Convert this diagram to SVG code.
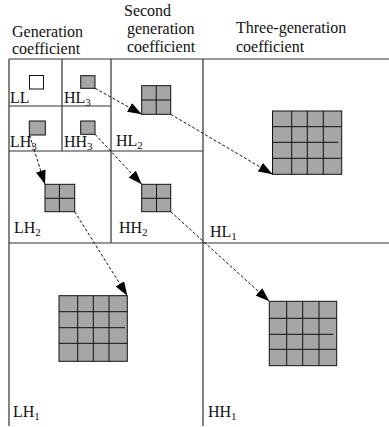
<svg xmlns="http://www.w3.org/2000/svg" width="389" height="427" viewBox="0 0 389 427">
<style>
text{font-family:"Liberation Serif","Times New Roman",serif;font-size:16px;fill:#111}
.sub{font-size:11px}
.frame{stroke:#333;stroke-width:1.2;fill:none}
.g{fill:#a6a6a6;stroke:#111;stroke-width:1}
.w{fill:#fff;stroke:#111;stroke-width:1}
.gl{stroke:#111;stroke-width:1;fill:none}
.arr{stroke:#111;stroke-width:1;stroke-dasharray:3 2;fill:none;marker-end:url(#ah)}
</style>
<defs>
<marker id="ah" viewBox="0 0 14 10" refX="14" refY="5" markerWidth="14" markerHeight="10" markerUnits="userSpaceOnUse" orient="auto">
<path d="M0,0 L14,5 L0,10 Z" fill="#000"/>
</marker>
</defs>
<rect width="389" height="427" fill="#fff"/>
<g id="headers">
<text x="12" y="37">Generation</text>
<text x="12" y="54">coefficient</text>
<text x="124" y="16">Second</text>
<text x="127" y="34">generation</text>
<text x="127" y="52">coefficient</text>
<text x="236" y="33">Three-generation</text>
<text x="236" y="52">coefficient</text>
</g>
<g id="frame">
<path class="frame" d="M9,59 H389 M9,59 V426 M62,59 V151 M111,59 V243 M203,59 V426 M9,106 H111 M9,151 H203 M9,243 H389"/>
</g>
<g id="LL">
<rect class="w" x="29.5" y="75.5" width="14" height="13.5"/>
<text x="10" y="103">LL</text>
</g>
<g id="HL3">
<rect class="g" x="80.7" y="75.7" width="14.3" height="12.6"/>
<text x="64" y="103">HL<tspan class="sub" dy="3">3</tspan></text>
</g>
<g id="LH3">
<rect class="g" x="29.3" y="121" width="16" height="14"/>
<text x="10" y="147">LH<tspan class="sub" dy="3">3</tspan></text>
</g>
<g id="HH3">
<rect class="g" x="80.7" y="121" width="14.3" height="13.3"/>
<text x="64" y="147">HH<tspan class="sub" dy="3">3</tspan></text>
</g>
<g id="HL2">
<rect class="g" x="141.7" y="85.7" width="29" height="28.6"/>
<path class="gl" d="M156.2,85.7 V114.3 M141.7,100 H170.7"/>
<text x="116" y="146">HL<tspan class="sub" dy="3">2</tspan></text>
</g>
<g id="LH2">
<rect class="g" x="45" y="184.3" width="29.7" height="27.4"/>
<path class="gl" d="M59.4,184.3 V211.7 M45,198.3 H74.7"/>
<text x="14" y="233">LH<tspan class="sub" dy="3">2</tspan></text>
</g>
<g id="HH2">
<rect class="g" x="141.7" y="184.3" width="29" height="27.4"/>
<path class="gl" d="M156.5,184.3 V211.7 M141.7,198.3 H170.7"/>
<text x="119" y="233">HH<tspan class="sub" dy="3">2</tspan></text>
</g>
<g id="HL1">
<rect class="g" x="272.5" y="111" width="69.2" height="63.3"/>
<path class="gl" d="M291.7,111 V174.3 M307.3,111 V174.3 M323.3,111 V174.3 M272.5,126.7 H341.7 M272.5,142.3 H338.3 M272.5,158.3 H341.7"/>
<text x="210" y="237">HL<tspan class="sub" dy="3">1</tspan></text>
</g>
<g id="LH1">
<rect class="g" x="59" y="295.7" width="68.3" height="65.6"/>
<path class="gl" d="M77.7,295.7 V361.3 M93.3,295.7 V361.3 M109,295.7 V361.3 M59,311.7 H127.3 M59,327.7 H125 M59,343.3 H127.3"/>
<text x="13" y="417">LH<tspan class="sub" dy="3">1</tspan></text>
</g>
<g id="HH1">
<rect class="g" x="269.3" y="301.3" width="67.4" height="64.4"/>
<path class="gl" d="M286.7,301.3 V365.7 M302.7,301.3 V365.7 M319,301.3 V365.7 M269.3,318.3 H336.7 M269.3,334.3 H333.3 M269.3,349.3 H336.7"/>
<text x="208" y="417">HH<tspan class="sub" dy="3">1</tspan></text>
</g>
<g id="connectors">
<path class="arr" d="M95,88.3 L141.7,114.3"/>
<path class="arr" d="M170.7,114.3 L272.5,174.3"/>
<path class="arr" d="M29.5,135 L45,184.3"/>
<path class="arr" d="M95,134.3 L141.7,184.3"/>
<path class="arr" d="M74.7,211.7 L127.3,295.7"/>
<path class="arr" d="M170.7,211.7 L269.3,301.3"/>
</g>
</svg>
